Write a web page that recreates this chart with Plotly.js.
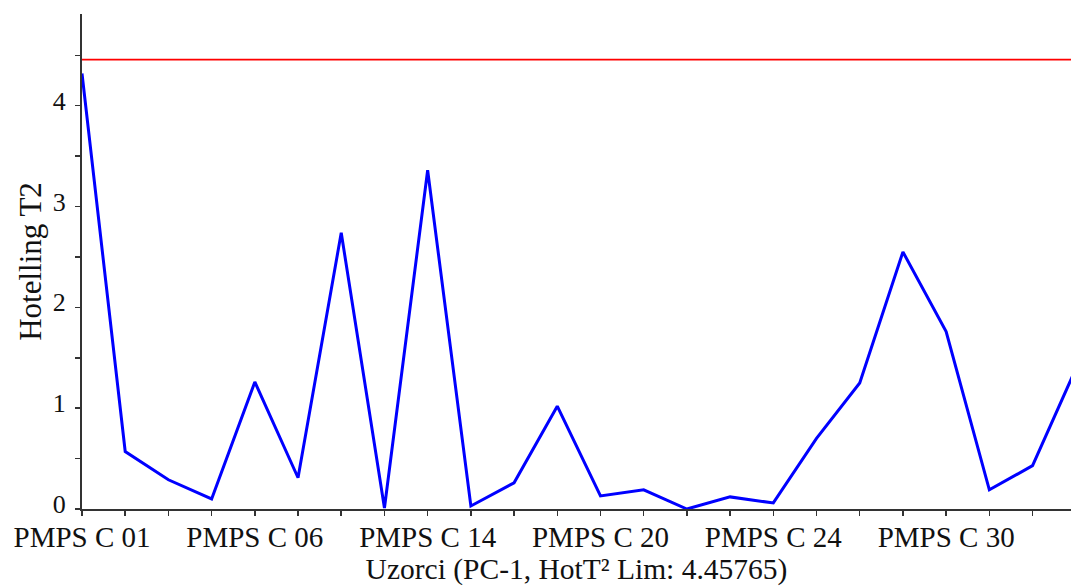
<!DOCTYPE html>
<html>
<head>
<meta charset="utf-8">
<script src="https://cdn.plot.ly/plotly-3.0.1.min.js"></script>
<style>
html,body{margin:0;padding:0;background:#fff;}
#chart{width:1071px;height:586px;}
</style>
</head>
<body>
<div id="chart"></div>
<script>
// Sample names (only every 4th is labelled on the axis)
const samples = ["PMPS C 01","PMPS C 02","PMPS C 03","PMPS C 05","PMPS C 06","PMPS C 08","PMPS C 10","PMPS C 12",
                 "PMPS C 14","PMPS C 15","PMPS C 17","PMPS C 18","PMPS C 20","PMPS C 21","PMPS C 22","PMPS C 23",
                 "PMPS C 24","PMPS C 26","PMPS C 27","PMPS C 29","PMPS C 30","PMPS C 31","PMPS C 32","PMPS C 33"];
// Hotelling T2 values
const hotT2 = [4.32,0.57,0.29,0.10,1.26,0.31,2.74,0.01,
               3.36,0.03,0.26,1.02,0.13,0.19,0.00,0.12,
               0.06,0.70,1.25,2.55,1.76,0.19,0.43,1.39];
const hotLimit = 4.45765;
const labelEvery = 4;
const yTickVals = [0,0.5,1,1.5,2,2.5,3,3.5,4,4.5];
const yTickText = ["0","","1","","2","","3","","4",""];

const xTickVals = samples.map((s,i)=>i);
const xTickText = samples.map((s,i)=> i % labelEvery === 0 ? s : "");

const fam = "Liberation Serif, Times New Roman, serif";

const data = [{
  type:"scatter", mode:"lines",
  x: samples.map((s,i)=>i), y: hotT2,
  line:{color:"#0000FF", width:3},
  hoverinfo:"skip"
}];

const layout = {
  width:1071, height:586,
  margin:{l:82, r:0, t:14, b:77},
  paper_bgcolor:"#fff", plot_bgcolor:"#fff",
  showlegend:false,
  font:{family:fam, size:29, color:"#111"},
  xaxis:{
    range:[0, 22.89],
    tickmode:"array", tickvals:xTickVals, ticktext:xTickText,
    showgrid:false, zeroline:false,
    showline:true, linecolor:"#333", linewidth:2,
    ticks:"outside", ticklen:5, tickwidth:1.5, tickcolor:"#333",
    ticklabelstandoff:-4,
    tickfont:{family:fam, size:29, color:"#111"},
    title:{text:"Uzorci (PC-1, HotT² Lim: 4.45765)", font:{family:fam, size:29.5, color:"#111"}, standoff:0}
  },
  yaxis:{
    range:[0, 4.91],
    tickmode:"array", tickvals:yTickVals, ticktext:yTickText,
    showgrid:false, zeroline:false,
    showline:true, linecolor:"#333", linewidth:2,
    ticks:"outside", ticklen:5, tickwidth:1.5, tickcolor:"#333",
    ticklabelstandoff:4,
    ticklabelshift:-5,
    tickfont:{family:fam, size:26, color:"#111"},
    title:{text:"Hotelling T2", font:{family:fam, size:31, color:"#111"}, standoff:2}
  },
  shapes:[{
    type:"line", xref:"paper", x0:0, x1:1, yref:"y", y0:hotLimit, y1:hotLimit,
    line:{color:"#FF0000", width:1.6}
  }]
};

Plotly.newPlot("chart", data, layout, {displayModeBar:false, staticPlot:true});
</script>
</body>
</html>
